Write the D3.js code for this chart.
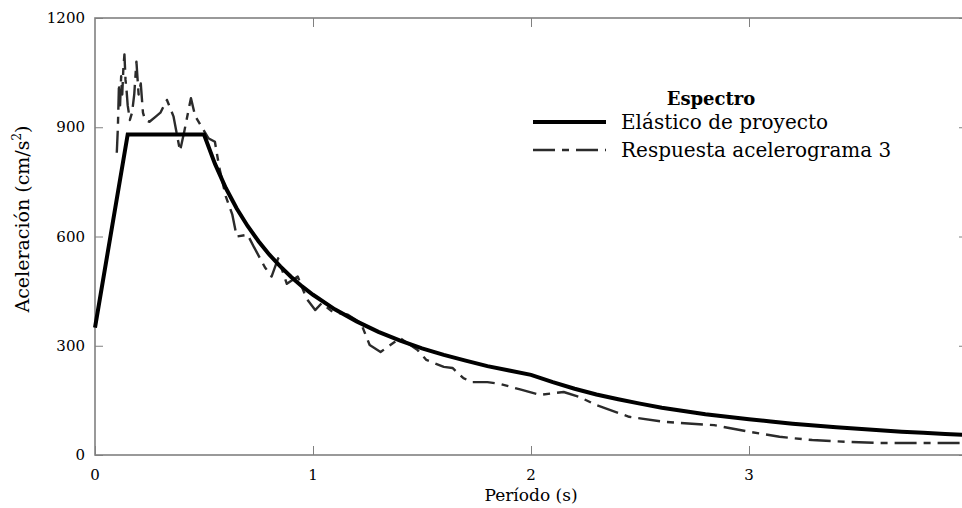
<!DOCTYPE html>
<html lang="es">
<head>
<meta charset="UTF-8">
<title>Espectro</title>
<script src="https://cdn.jsdelivr.net/npm/d3@7"></script>
<style>
	body{ margin:0; background:#fff; }
	svg{ display:block; font-family:"DejaVu Serif", serif; }
	.spine{ fill:none; stroke:#808080; stroke-width:1.6; }
	.tick line{ stroke:#808080; stroke-width:1; }
</style>
</head>
<body>
<svg></svg>
<script>
// ---- data ----
var elasticT = [0, 0.15, 0.5, 0.55, 0.6, 0.65, 0.7, 0.75, 0.8, 0.85, 0.9, 0.95, 1.0, 1.1, 1.2, 1.3, 1.4, 1.5, 1.6, 1.7, 1.8, 1.9, 2.0, 2.1, 2.2, 2.3, 2.4, 2.5, 2.6, 2.7, 2.8, 2.9, 3.0, 3.1, 3.2, 3.3, 3.4, 3.5, 3.6, 3.7, 3.8, 3.9, 4.0];
var elasticA = [350, 880, 880, 800, 733, 677, 629, 587, 550, 518, 489, 463, 440, 400, 367, 338, 314, 293, 275, 259, 244, 232, 220, 200, 182, 166, 153, 141, 130, 121, 112, 105, 98, 92, 86, 81, 76, 72, 68, 64, 61, 58, 55];

var respT = [0.10, 0.105, 0.11, 0.115, 0.12, 0.125, 0.13, 0.135, 0.14, 0.145, 0.15, 0.16, 0.17, 0.18, 0.19, 0.20, 0.21, 0.22, 0.23, 0.25, 0.28, 0.30, 0.33, 0.36, 0.39, 0.41, 0.44, 0.46, 0.49, 0.52, 0.55, 0.57, 0.60, 0.63, 0.65, 0.70, 0.73, 0.78, 0.81, 0.84, 0.88, 0.93, 0.97, 1.01, 1.04, 1.09, 1.16, 1.22, 1.26, 1.31, 1.40, 1.48, 1.52, 1.60, 1.64, 1.69, 1.73, 1.80, 1.86, 1.95, 2.04, 2.15, 2.22, 2.30, 2.45, 2.60, 2.68, 2.84, 2.99, 3.14, 3.29, 3.45, 3.60, 3.75, 3.97];
var respA = [830, 900, 1020, 960, 1040, 990, 1060, 1100, 1030, 1000, 960, 920, 940, 990, 1080, 990, 1020, 940, 920, 915, 930, 940, 975, 930, 835, 890, 980, 930, 900, 870, 860, 790, 710, 660, 600, 605, 570, 515, 490, 540, 470, 490, 430, 398, 417, 393, 385, 362, 302, 283, 321, 288, 261, 242, 239, 211, 200, 200, 195, 180, 165, 173, 160, 137, 105, 92, 88, 82, 65, 50, 41, 36, 33, 33, 33];

var xTicks = [0, 1, 2, 3];
var yTicks = [0, 300, 600, 900, 1200];
var legendTitle = "Espectro";
var seriesNames = ["Elástico de proyecto", "Respuesta acelerograma 3"];

// ---- layout ----
var W = 962, H = 508;
var plotL = 95, plotR = 967, plotT = 18, plotB = 455;
var dashPat = "22,7,7,7";

var svg = d3.select("svg").attr("width", W).attr("height", H);

var x = d3.scaleLinear().domain([0, 4]).range([plotL, plotR]);
var y = d3.scaleLinear().domain([0, 1200]).range([plotB, plotT]);

// axes (ticks inside, on all four sides)
svg.append("g").attr("transform", "translate(0," + plotB + ")")
	.call(d3.axisTop(x).tickValues(xTicks).tickSize(9).tickFormat(""))
	.call(g => g.select(".domain").remove());
svg.append("g").attr("transform", "translate(0," + plotT + ")")
	.call(d3.axisBottom(x).tickValues(xTicks.slice(1)).tickSize(9).tickFormat(""))
	.call(g => g.select(".domain").remove());
svg.append("g").attr("transform", "translate(" + plotL + ",0)")
	.call(d3.axisRight(y).tickValues(yTicks).tickSize(8).tickFormat(""))
	.call(g => g.select(".domain").remove());
svg.append("g").attr("transform", "translate(" + plotR + ",0)")
	.call(d3.axisLeft(y).tickValues(yTicks).tickSize(8).tickFormat(""))
	.call(g => g.select(".domain").remove());

// tick labels
svg.append("g").selectAll("text").data(xTicks).join("text")
	.attr("x", d => x(d)).attr("y", plotB + 25)
	.attr("text-anchor", "middle").attr("font-size", 15).text(d => d);
svg.append("g").selectAll("text").data(yTicks).join("text")
	.attr("x", plotL - 10).attr("y", d => y(d) + 5)
	.attr("text-anchor", "end").attr("font-size", 15).text(d => d);

// spines
svg.append("rect").attr("class", "spine")
	.attr("x", plotL).attr("y", plotT).attr("width", plotR - plotL).attr("height", plotB - plotT);

// lines
var line = d3.line().x(d => x(d[0])).y(d => y(d[1]));

svg.append("path")
	.attr("d", line(d3.zip(respT, respA)))
	.attr("fill", "none").attr("stroke", "#2b2b2b").attr("stroke-width", 2.4)
	.attr("stroke-dasharray", dashPat).attr("stroke-linejoin", "round");

svg.append("path")
	.attr("d", line(d3.zip(elasticT, elasticA)))
	.attr("fill", "none").attr("stroke", "#000").attr("stroke-width", 4)
	.attr("stroke-linejoin", "miter");

// axis titles
svg.append("text").attr("x", x(2)).attr("y", 501)
	.attr("text-anchor", "middle").attr("font-size", 17).text("Período (s)");
var yl = svg.append("text").attr("transform", "translate(29,219) rotate(-90)")
	.attr("text-anchor", "middle").attr("font-size", 19);
yl.append("tspan").text("Aceleración (cm/s");
yl.append("tspan").attr("font-size", 12).attr("dy", -8).text("2");
yl.append("tspan").attr("dy", 8).text(")");

// legend
var lg = svg.append("g");
lg.append("text").attr("x", 711).attr("y", 105).attr("text-anchor", "middle")
	.attr("font-size", 18).attr("font-weight", "bold").text(legendTitle);
var rows = [
	{ name: seriesNames[0], stroke: "#000", w: 4, dash: null, y: 122 },
	{ name: seriesNames[1], stroke: "#2b2b2b", w: 2.4, dash: dashPat, y: 150 }
];
rows.forEach(r => {
	lg.append("line").attr("x1", 533).attr("x2", 606).attr("y1", r.y).attr("y2", r.y)
		.attr("stroke", r.stroke).attr("stroke-width", r.w).attr("stroke-dasharray", r.dash);
	lg.append("text").attr("x", 621).attr("y", r.y + 7).attr("font-size", 20).text(r.name);
});
</script>
</body>
</html>
